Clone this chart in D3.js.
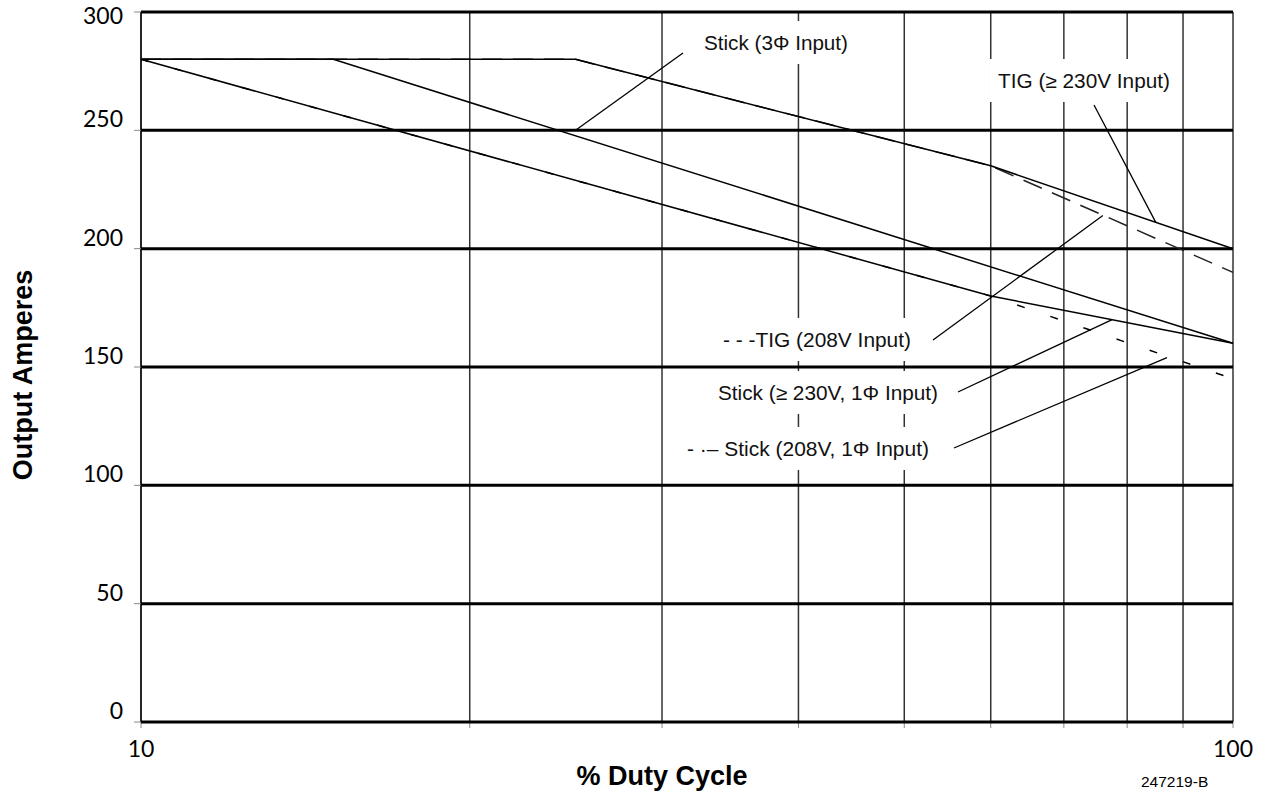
<!DOCTYPE html>
<html>
<head>
<meta charset="utf-8">
<script src="https://cdn.jsdelivr.net/npm/d3@7"></script>
<style>
  body { margin: 0; background: #fff; }
  .lbl { font-family: "Liberation Sans", Arial, sans-serif; font-size: 20px; fill: #111; }
  .tick { font-family: Lato, "Open Sans", sans-serif; font-size: 23px; fill: #000; }
</style>
</head>
<body>
<div id="chart"></div>
<script>
// duty cycle chart
var svgWidth = 1265;
var svgHeight = 794;

var margin = { top: 12, right: 32, bottom: 72, left: 141 };
var width = svgWidth - margin.left - margin.right;
var height = svgHeight - margin.top - margin.bottom;

// data (duty %, amps)
var tig230Duty = [10, 25, 60, 100];
var tig230Amps = [280, 280, 235, 200];
var tig208Duty = [10, 25, 60, 100];
var tig208Amps = [280, 280, 235, 190];
var stick3phDuty = [10, 15, 100];
var stick3phAmps = [280, 280, 160];
var stick230Duty = [10, 60, 100];
var stick230Amps = [280, 180, 160];
var stick208Duty = [10, 60, 100];
var stick208Amps = [280, 180, 145];

var yTicks = [0, 50, 100, 150, 200, 250, 300];
var xGrid = [10, 20, 30, 40, 50, 60, 70, 80, 90, 100];
var xLabels = [10, 100];

// annotation texts and the curve point each leader points at
var noteText = ["Stick (3\u03A6 Input)", "TIG (\u2265 230V Input)", "- - -TIG (208V Input)",
  "Stick (\u2265 230V, 1\u03A6 Input)", "- \u00B7\u2013 Stick (208V, 1\u03A6 Input)"];
var noteDuty = [25, 85, 76, 77.5, 87];
var noteAmps = [250, 211, 214, 170, 154];

// label layout (pixels)
var notePos = [[704, 50], [998, 88], [723, 347], [718, 400], [687, 456]];
var noteWidth = [144, 172, 188, 220, 242];
var leaderStart = [[683, 53], [1094, 105], [933, 340], [958, 392], [954, 448]];

var svg = d3.select("#chart")
  .append("svg")
  .attr("width", svgWidth)
  .attr("height", svgHeight);

var chartGroup = svg.append("g")
  .attr("transform", `translate(${margin.left}, ${margin.top})`);

var xScale = d3.scaleLog().domain([10, 100]).range([0, width]);
var yScale = d3.scaleLinear().domain([0, 300]).range([height, 0]);

// vertical grid
chartGroup.append("g")
  .selectAll("line")
  .data(xGrid)
  .join("line")
  .attr("x1", d => xScale(d))
  .attr("x2", d => xScale(d))
  .attr("y1", 0)
  .attr("y2", height)
  .attr("stroke", "#333")
  .attr("stroke-width", 1.5);

// white boxes behind the notes break the vertical grid
chartGroup.append("g")
  .selectAll("rect")
  .data(notePos)
  .join("rect")
  .attr("x", (d, i) => d[0] - margin.left - 8)
  .attr("y", d => d[1] - margin.top - 29)
  .attr("width", (d, i) => noteWidth[i] + 16)
  .attr("height", 43)
  .attr("fill", "#fff");

// x ticks under the axis
chartGroup.append("g")
  .selectAll("line")
  .data(xGrid)
  .join("line")
  .attr("x1", d => xScale(d))
  .attr("x2", d => xScale(d))
  .attr("y1", height)
  .attr("y2", height + 6)
  .attr("stroke", "#888")
  .attr("stroke-width", 1);

// left axis line + ticks
chartGroup.append("line")
  .attr("x1", 0).attr("x2", 0)
  .attr("y1", 0).attr("y2", height)
  .attr("stroke", "#111")
  .attr("stroke-width", 1.5);

chartGroup.append("g")
  .selectAll("line")
  .data(yTicks)
  .join("line")
  .attr("x1", -7)
  .attr("x2", 0)
  .attr("y1", d => yScale(d))
  .attr("y2", d => yScale(d))
  .attr("stroke", "#888");

// horizontal grid, heavy
chartGroup.append("g")
  .selectAll("line")
  .data(yTicks)
  .join("line")
  .attr("x1", 0)
  .attr("x2", width)
  .attr("y1", d => yScale(d))
  .attr("y2", d => yScale(d))
  .attr("stroke", "#000")
  .attr("stroke-width", 3);

// y labels
chartGroup.append("g")
  .selectAll("text")
  .data(yTicks)
  .join("text")
  .attr("class", "tick")
  .attr("x", -18)
  .attr("y", d => Math.max(yScale(d) - 3, 12))
  .attr("text-anchor", "end")
  .text(d => d);

// x labels
chartGroup.append("g")
  .selectAll("text")
  .data(xLabels)
  .join("text")
  .attr("class", "tick")
  .attr("x", d => xScale(d))
  .attr("y", height + 35)
  .attr("text-anchor", "middle")
  .text(d => d);

// curves
var line = d3.line()
  .x(d => xScale(d[0]))
  .y(d => yScale(d[1]));

function pairs(xs, ys) {
  return xs.map((x, i) => [x, ys[i]]);
}

var curves = [
  { pts: pairs(stick3phDuty, stick3phAmps), dash: null, color: "#000" },
  { pts: pairs(stick230Duty, stick230Amps), dash: null, color: "#000" },
  { pts: pairs(stick208Duty, stick208Amps), dash: "8,27", color: "#000" },
  { pts: pairs(tig208Duty, tig208Amps), dash: "20,11", color: "#222" },
  { pts: pairs(tig230Duty, tig230Amps), dash: null, color: "#000" }
];

chartGroup.append("g")
  .selectAll("path")
  .data(curves)
  .join("path")
  .attr("d", d => line(d.pts))
  .attr("fill", "none")
  .attr("stroke", d => d.color)
  .attr("stroke-width", 1.5)
  .attr("stroke-dasharray", d => d.dash);

// leaders
chartGroup.append("g")
  .selectAll("line")
  .data(noteText)
  .join("line")
  .attr("x1", (d, i) => leaderStart[i][0] - margin.left)
  .attr("y1", (d, i) => leaderStart[i][1] - margin.top)
  .attr("x2", (d, i) => xScale(noteDuty[i]))
  .attr("y2", (d, i) => yScale(noteAmps[i]))
  .attr("stroke", "#000")
  .attr("stroke-width", 1.3);

// note texts
chartGroup.append("g")
  .selectAll("text")
  .data(noteText)
  .join("text")
  .attr("class", "lbl")
  .attr("x", (d, i) => notePos[i][0] - margin.left)
  .attr("y", (d, i) => notePos[i][1] - margin.top)
  .attr("textLength", (d, i) => noteWidth[i])
  .attr("lengthAdjust", "spacingAndGlyphs")
  .text(d => d);

// axis titles
svg.append("text")
  .attr("x", 662)
  .attr("y", 785)
  .attr("text-anchor", "middle")
  .style("font-family", "'Liberation Sans', Arial, sans-serif")
  .style("font-weight", "bold")
  .style("font-size", "27px")
  .text("% Duty Cycle");

svg.append("text")
  .attr("transform", "translate(32, 375) rotate(-90)")
  .attr("text-anchor", "middle")
  .style("font-family", "'Liberation Sans', Arial, sans-serif")
  .style("font-weight", "bold")
  .style("font-size", "27px")
  .text("Output Amperes");

svg.append("text")
  .attr("x", 1141)
  .attr("y", 787)
  .style("font-family", "'Liberation Sans', Arial, sans-serif")
  .style("font-size", "15.5px")
  .text("247219-B");
</script>
</body>
</html>
